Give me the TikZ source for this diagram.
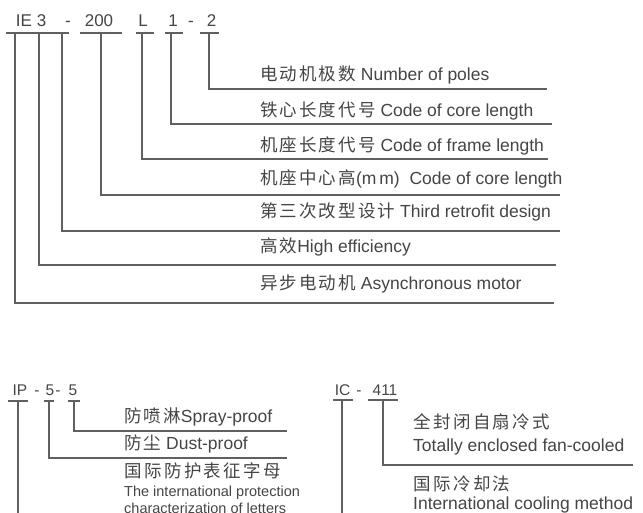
\documentclass[tikz,border=0pt]{standalone}
\usepackage{fontspec}
\setmainfont{Liberation Sans}
\newfontfamily\cjk[LetterSpace=12]{Noto Sans CJK SC}
\newfontfamily\cjkw[LetterSpace=14]{Noto Sans CJK SC}
\definecolor{txt}{HTML}{454545}
\definecolor{ln}{HTML}{606060}
\begin{document}
\begin{tikzpicture}[x=1pt,y=-1pt,
  code/.style={anchor=base,inner sep=0pt,font=\fontsize{17}{20}\selectfont,text=txt},
  codes/.style={anchor=base,inner sep=0pt,font=\fontsize{15.5}{18}\selectfont,text=txt},
  lab/.style={anchor=base west,inner sep=0pt,font=\fontsize{17.5}{20}\selectfont,text=txt},
  labs/.style={anchor=base west,inner sep=0pt,font=\fontsize{14.5}{17}\selectfont,text=txt},
  wire/.style={draw=ln,line width=1.2pt}]
\useasboundingbox[fill=white] (0,0) rectangle (643,513);

% ---------- top code ----------
\node[code] (cIE) at (24,27) {IE};
\node[code] (c3) at (41.5,27) {3};
\node[code] (cd1) at (68,27) {-};
\node[code] (c200) at (99,27) {200};
\node[code] (cL) at (143,27) {L};
\node[code] (c1) at (173,27) {1};
\node[code] (cd2) at (191,27) {-};
\node[code] (c2) at (211.5,27) {2};

\coordinate (u1a) at (6,33);   \coordinate (u1b) at (69,33);
\coordinate (u2a) at (80,33);  \coordinate (u2b) at (122,33);
\coordinate (u3a) at (136,33); \coordinate (u3b) at (154,33);
\coordinate (u4a) at (165,33); \coordinate (u4b) at (183,33);
\coordinate (u5a) at (200,33); \coordinate (u5b) at (219,33);
\draw[wire] (u1a) -- (u1b);
\draw[wire] (u2a) -- (u2b);
\draw[wire] (u3a) -- (u3b);
\draw[wire] (u4a) -- (u4b);
\draw[wire] (u5a) -- (u5b);

% labels
\node[lab] (l1) at (260,81)  {\cjk 电动机极数\normalfont{} Number of poles};
\node[lab] (l2) at (260,117) {\cjk 铁心长度代号\normalfont{} Code of core length};
\node[lab] (l3) at (260,152) {\cjk 机座长度代号\normalfont{} Code of frame length};
\node[lab] (l4) at (260,185) {\cjk 机座中心高\normalfont{}(m\,m)\ \ Code of core length};
\node[lab] (l5) at (260,218) {\cjk 第三次改型设计\normalfont{} Third retrofit design};
\node[lab] (l6) at (260,253) {\cjk 高效\normalfont{}High efficiency};
\node[lab] (l7) at (260,290) {\cjk 异步电动机\normalfont{} Asynchronous motor};

% connectors
\coordinate (s1) at (209,33);  \coordinate (e1) at (547,89);
\coordinate (s2) at (171,33);  \coordinate (e2) at (552,124);
\coordinate (s3) at (142,33);  \coordinate (e3) at (548,159);
\coordinate (s4) at (101,33);  \coordinate (e4) at (560,195);
\coordinate (s5) at (62,33);   \coordinate (e5) at (560,231);
\coordinate (s6) at (39,33);   \coordinate (e6) at (556,265);
\coordinate (s7) at (15,33);   \coordinate (e7) at (554,303);
\draw[wire] (s1) |- (e1);
\draw[wire] (s2) |- (e2);
\draw[wire] (s3) |- (e3);
\draw[wire] (s4) |- (e4);
\draw[wire] (s5) |- (e5);
\draw[wire] (s6) |- (e6);
\draw[wire] (s7) |- (e7);

% ---------- IP code ----------
\node[codes] (pIP) at (20,395) {IP};
\node[codes] (pd1) at (37,395) {-};
\node[codes] (p5a) at (50,395) {5};
\node[codes] (pd2) at (58,395) {-};
\node[codes] (p5b) at (73,395) {5};
\coordinate (pu1a) at (8,401);  \coordinate (pu1b) at (28,401);
\coordinate (pu2a) at (44,401); \coordinate (pu2b) at (54,401);
\coordinate (pu3a) at (68,401); \coordinate (pu3b) at (80,401);
\draw[wire] (pu1a) -- (pu1b);
\draw[wire] (pu2a) -- (pu2b);
\draw[wire] (pu3a) -- (pu3b);

\node[lab] (pl1) at (124,422) {\cjk 防喷淋\normalfont{}Spray-proof};
\node[lab] (pl2) at (124,449) {\cjk 防尘\normalfont{} Dust-proof};
\node[lab] (pl3) at (124,477) {\cjkw 国际防护表征字母};
\node[labs] (pl4) at (124,496) {The international protection};
\node[labs] (pl5) at (124,513) {characterization of letters};

\coordinate (ps1) at (74,401); \coordinate (pe1) at (287,431);
\coordinate (ps2) at (49,401); \coordinate (pe2) at (287,458);
\coordinate (ps3) at (18,401); \coordinate (pe3) at (18,520);
\draw[wire] (ps1) |- (pe1);
\draw[wire] (ps2) |- (pe2);
\draw[wire] (ps3) -- (pe3);

% ---------- IC code ----------
\node[codes] (cIC) at (342.5,395) {IC};
\node[codes] (cd3) at (359,395) {-};
\node[codes] (c411) at (385,395) {411};
\coordinate (cu1a) at (333,400); \coordinate (cu1b) at (353,400);
\coordinate (cu2a) at (368,400); \coordinate (cu2b) at (398,400);
\draw[wire] (cu1a) -- (cu1b);
\draw[wire] (cu2a) -- (cu2b);

\node[lab] (cl1) at (413,428) {\cjkw 全封闭自扇冷式};
\node[lab] (cl2) at (413,451) {Totally enclosed fan-cooled};
\node[lab] (cl3) at (413,490) {\cjkw 国际冷却法};
\node[lab] (cl4) at (413,509) {International cooling method};

\coordinate (cs1) at (383,400); \coordinate (ce1) at (633,465);
\coordinate (cs2) at (342,400); \coordinate (ce2) at (342,520);
\draw[wire] (cs1) |- (ce1);
\draw[wire] (cs2) -- (ce2);
\end{tikzpicture}
\end{document}
